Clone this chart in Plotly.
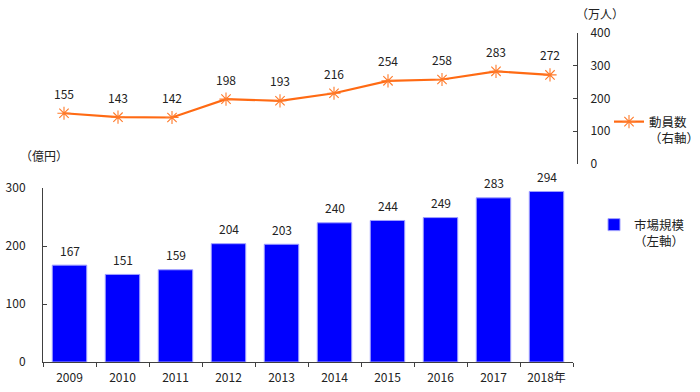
import plotly.graph_objects as go

years = ["2009", "2010", "2011", "2012", "2013", "2014", "2015", "2016", "2017", "2018"]
year_labels = ["2009", "2010", "2011", "2012", "2013", "2014", "2015", "2016", "2017", "2018年"]
market_size = [167, 151, 159, 204, 203, 240, 244, 249, 283, 294]   # 億円 (left axis)
attendance = [155, 143, 142, 198, 193, 216, 254, 258, 283, 272]    # 万人 (right axis)

FONT = "Noto Sans CJK JP, Noto Sans, sans-serif"
W, H = 700, 392

def px_x(p):
    return p / W

def px_y(p):
    return (H - p) / H

idx = list(range(len(years)))
xr = [-0.5, len(years) - 0.5]

fig = go.Figure()

fig.add_trace(go.Bar(
    x=idx, y=market_size, name="市場規模<br>（左軸）",
    marker=dict(color="#0000FF", line=dict(color="#A0A0FF", width=1)),
    width=0.65, xaxis="x", yaxis="y", legend="legend2", showlegend=True,
))

fig.add_trace(go.Scatter(
    x=idx, y=attendance, name="動員数<br>（右軸）",
    mode="lines+markers", xaxis="x2", yaxis="y2", legend="legend", showlegend=True,
    line=dict(color="#FF6A13", width=2.2),
    marker=dict(symbol="asterisk-open", size=11, color="#FF7A2A",
                line=dict(color="#FF7A2A", width=1.1)),
    cliponaxis=False,
))

for i, v in zip(idx, market_size):
    fig.add_annotation(x=i, y=v, xref="x", yref="y", text=str(v),
                       showarrow=False, yshift=15,
                       font=dict(size=12, color="#222222", family=FONT))

for i, v in zip(idx, attendance):
    fig.add_annotation(x=i, y=v, xref="x2", yref="y2", text=str(v),
                       showarrow=False, yshift=20,
                       font=dict(size=12, color="#222222", family=FONT))

fig.update_layout(
    width=W, height=H,
    margin=dict(l=0, r=0, t=0, b=0, autoexpand=False),
    paper_bgcolor="white", plot_bgcolor="white",
    font=dict(family=FONT, size=12, color="#222222"),
    showlegend=True,
    xaxis=dict(domain=[px_x(43), px_x(573)], anchor="y", type="linear",
               range=xr, tickvals=idx, ticktext=year_labels,
               showline=True, linecolor="#404040", linewidth=1,
               ticks="",
               minor=dict(ticks="outside", tick0=-0.5, dtick=1, ticklen=4,
                          tickcolor="#404040", showgrid=False),
               showgrid=False, zeroline=False, tickfont=dict(size=12),
               ticklabelstandoff=5),
    yaxis=dict(domain=[px_y(362), px_y(188)], range=[0, 300], anchor="x",
               tickvals=[0, 100, 200, 300],
               showline=True, linecolor="#404040", linewidth=1,
               ticks="inside", ticklen=4, tickcolor="#404040",
               showgrid=False, zeroline=False, tickfont=dict(size=12),
               ticklabelstandoff=14),
    xaxis2=dict(domain=[px_x(37), px_x(577)], anchor="y2", type="linear",
                range=xr,
                showline=False, showticklabels=False, ticks="",
                showgrid=False, zeroline=False),
    yaxis2=dict(domain=[px_y(164), px_y(33)], range=[0, 400], anchor="x2",
                side="right", tickvals=[0, 100, 200, 300, 400],
                showline=True, linecolor="#404040", linewidth=1,
                ticks="inside", ticklen=4, tickcolor="#404040",
                showgrid=False, zeroline=False, tickfont=dict(size=12),
                ticklabelstandoff=10),
    legend=dict(x=px_x(609), y=px_y(107), xanchor="left", yanchor="top",
                bgcolor="rgba(0,0,0,0)", font=dict(size=12.5),
                itemwidth=30, valign="top"),
    legend2=dict(x=px_x(594), y=px_y(210), xanchor="left", yanchor="top",
                 bgcolor="rgba(0,0,0,0)", font=dict(size=12.5),
                 itemwidth=30, valign="top"),
)

fig.add_annotation(x=px_x(44), y=px_y(155), xref="paper", yref="paper",
                   xanchor="center", yanchor="middle",
                   text="（億円）", showarrow=False, font=dict(size=12))
fig.add_annotation(x=px_x(600), y=px_y(13), xref="paper", yref="paper",
                   xanchor="center", yanchor="middle",
                   text="（万人）", showarrow=False, font=dict(size=12))

fig.write_html("out.html", config={"displayModeBar": False},
               post_script="document.body.style.margin='0px';")
